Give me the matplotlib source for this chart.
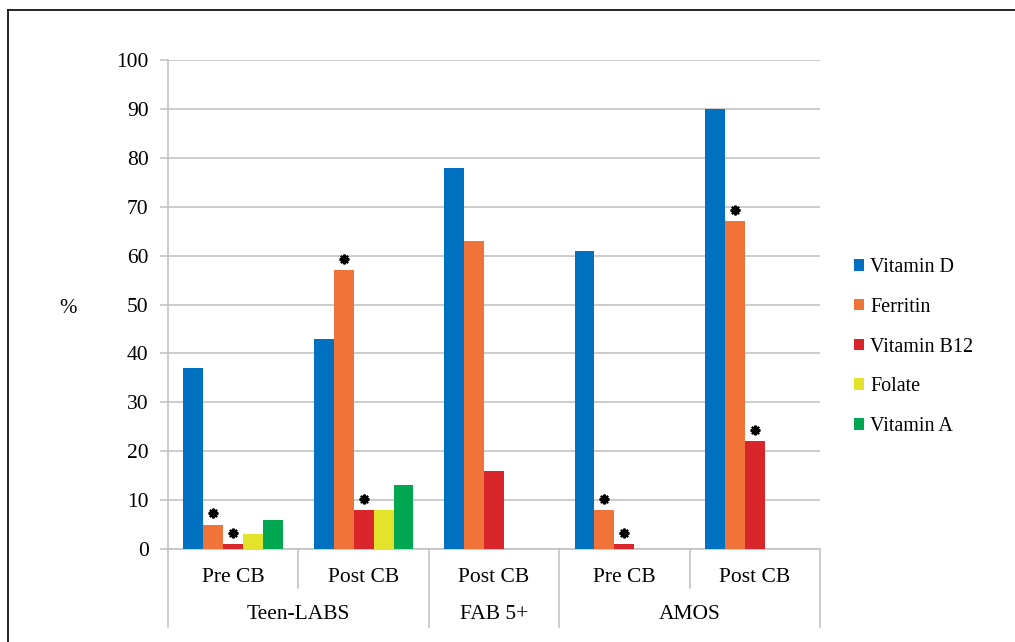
import matplotlib.pyplot as plt
from matplotlib.patches import Patch
from matplotlib.lines import Line2D

# Data
sub_labels = ["Pre CB", "Post CB", "Post CB", "Pre CB", "Post CB"]
studies = ["Teen-LABS", "FAB 5+", "AMOS"]
study_spans = [(0, 2), (2, 3), (3, 5)]
series = ["Vitamin D", "Ferritin", "Vitamin B12", "Folate", "Vitamin A"]
vitamin_d = [37, 43, 78, 61, 90]
ferritin = [5, 57, 63, 8, 67]
vitamin_b12 = [1, 8, 16, 1, 22]
folate = [3, 8, 0, 0, 0]
vitamin_a = [6, 13, 0, 0, 0]
# (group index, series index) pairs marked with an asterisk
starred = [(0, 1), (0, 2), (1, 1), (1, 2), (3, 1), (3, 2), (4, 1), (4, 2)]

colors = ["#0070C0", "#F0733A", "#D9262A", "#E3E32B", "#00A650"]
values = [vitamin_d, ferritin, vitamin_b12, folate, vitamin_a]

plt.rcParams["font.family"] = ["Liberation Serif", "DejaVu Serif"]
grey = "#BFBFBF"

fig = plt.figure(figsize=(10.15, 6.42), dpi=100)
ax = fig.add_axes([168 / 1015, 1 - 549 / 642, 652 / 1015, 489 / 642])

width = 0.153
for s, vals in enumerate(values):
    xs = [g + 0.5 + (s - 2) * width for g in range(len(vals))]
    ax.bar(xs, vals, width=width, color=colors[s], label=series[s], zorder=3)

for g, s in starred:
    x = g + 0.5 + (s - 2) * width
    ax.plot(x, values[s][g] + 2.3, marker=(8, 2, 0), color="black",
            markersize=7, markeredgewidth=1.6, zorder=4)

ax.set_xlim(0, 5)
ax.set_ylim(0, 100)
ax.set_yticks(range(0, 101, 10))
ax.yaxis.grid(True, color=grey, linewidth=1.1, zorder=0)
ax.set_xticks([])
for side in ["top", "right", "bottom"]:
    ax.spines[side].set_visible(False)
ax.spines["left"].set_color(grey)
ax.spines["left"].set_linewidth(1.1)
ax.tick_params(axis="y", length=6, width=1.1, color=grey, pad=8, labelsize=15.5)

# Category axis below the plot
trans = ax.get_xaxis_transform()
ax.plot([0, 5], [0, 0], color=grey, linewidth=1.1, transform=trans, clip_on=False)
for g, lab in enumerate(sub_labels):
    ax.text(g + 0.5, -0.058, lab, transform=trans, ha="center", va="center", fontsize=15.5)
bounds = set()
for (a, b) in study_spans:
    bounds.update([a, b])
for x in range(6):
    low = -0.16 if x in bounds else -0.08
    ax.plot([x, x], [0, low], color=grey, linewidth=1.1, transform=trans, clip_on=False)
for name, (a, b) in zip(studies, study_spans):
    ax.text((a + b) / 2, -0.134, name, transform=trans, ha="center", va="center", fontsize=15.5)

fig.text(68 / 1015, 1 - 308 / 642, "%", ha="center", va="center", fontsize=15)

handles = [Patch(facecolor=c, edgecolor="none") for c in colors]
fig.legend(handles, series, loc="center left", bbox_to_anchor=(836 / 1015, 1 - 347 / 642),
           frameon=False, fontsize=14.5, handlelength=0.5, handleheight=0.5,
           handletextpad=0.3, labelspacing=1.03)

# Frame lines (left and top of the figure border)
fig.add_artist(Line2D([8 / 1015, 8 / 1015], [0, 1 - 10 / 642], color="black", linewidth=1.2))
fig.add_artist(Line2D([8 / 1015, 1], [1 - 10 / 642, 1 - 10 / 642], color="black", linewidth=1.2))

fig.savefig("out.png", dpi=100)
